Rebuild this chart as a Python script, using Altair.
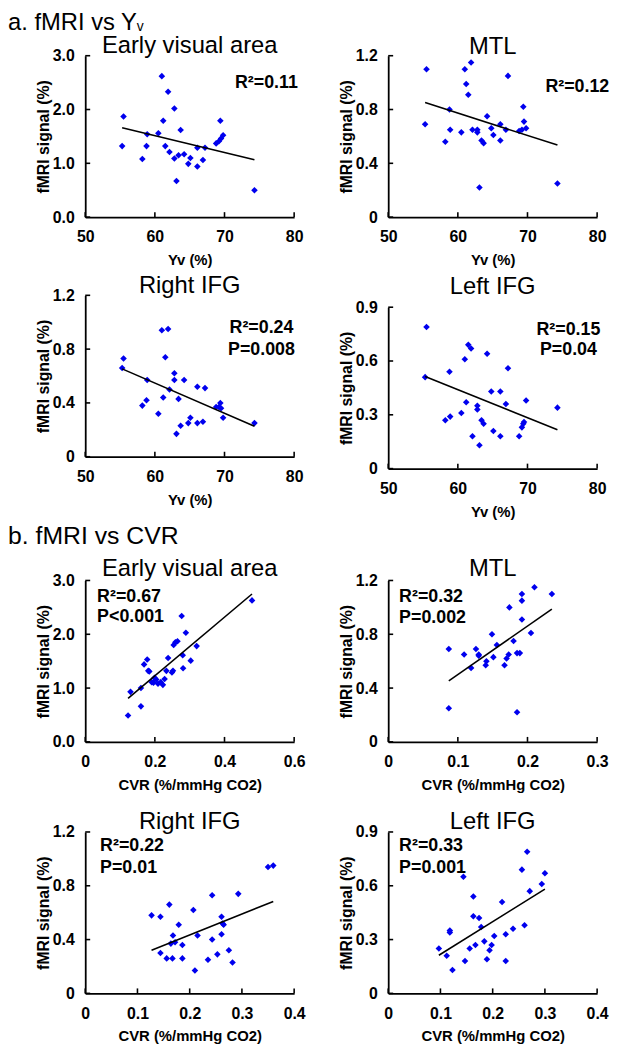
import altair as alt
import pandas as pd

FONT = "Liberation Sans"
BLUE = "#0000ee"

# ---------------- data ----------------
# a. fMRI vs Yv (Yv shared by the four regions)
YV = [55.3, 55.5, 58.2, 58.8, 58.9, 60.5, 61.0, 61.2, 61.5, 61.9, 62.1, 62.8, 62.8, 63.1, 63.4,
      63.7, 64.2, 64.8, 65.1, 66.1, 66.1, 66.9, 67.2, 68.8, 69.2, 69.4, 69.5, 69.8, 74.3]
EV_A = [1.32, 1.87, 1.08, 1.32, 1.54, 1.56, 2.62, 1.79, 1.32, 2.33, 1.21, 2.02, 1.09, 0.67, 1.15,
        1.62, 1.17, 0.99, 1.10, 0.94, 1.29, 1.06, 1.29, 1.37, 1.41, 1.79, 1.46, 1.52, 0.50]
MTL_A = [0.69, 1.10, 0.56, 0.80, 0.65, 0.63, 1.10, 0.99, 0.91, 1.15, 0.65, 0.65, 0.63, 0.22, 0.57,
         0.55, 0.75, 0.66, 0.61, 0.57, 0.69, 0.65, 1.05, 0.64, 0.65, 0.82, 0.71, 0.66, 0.25]
RIFG_A = [0.66, 0.73, 0.38, 0.42, 0.57, 0.32, 0.94, 0.44, 0.74, 0.95, 0.50, 0.62, 0.57, 0.17, 0.43,
          0.23, 0.57, 0.25, 0.29, 0.25, 0.52, 0.26, 0.51, 0.37, 0.37, 0.40, 0.36, 0.29, 0.25]
LIFG_A = [0.51, 0.79, 0.27, 0.54, 0.29, 0.31, 0.61, 0.37, 0.69, 0.67, 0.18, 0.35, 0.33, 0.13, 0.27,
          0.25, 0.64, 0.43, 0.21, 0.18, 0.43, 0.36, 0.56, 0.18, 0.23, 0.25, 0.26, 0.38, 0.34]

# b. fMRI vs CVR (regional CVR)
EV_CVR = [0.123, 0.130, 0.160, 0.160, 0.169, 0.178, 0.181, 0.184, 0.191, 0.196, 0.199, 0.204, 0.209,
          0.217, 0.223, 0.228, 0.233, 0.238, 0.249, 0.252, 0.254, 0.259, 0.265, 0.277, 0.280, 0.281,
          0.289, 0.303, 0.320, 0.479]
EV_B = [0.49, 0.93, 1.00, 0.66, 1.44, 1.53, 1.32, 1.31, 1.11, 1.10, 1.19, 1.16, 1.08, 1.11, 1.06,
        1.17, 1.32, 1.56, 1.29, 1.32, 1.80, 1.85, 1.87, 2.34, 1.61, 1.37, 2.03, 1.51, 1.78, 2.63]
MTL_CVR = [0.087, 0.087, 0.109, 0.119, 0.126, 0.130, 0.130, 0.140, 0.141, 0.149, 0.151, 0.156, 0.167,
           0.170, 0.173, 0.174, 0.180, 0.185, 0.185, 0.189, 0.192, 0.192, 0.192, 0.205, 0.210, 0.235]
MTL_B = [0.69, 0.25, 0.65, 0.55, 0.69, 0.65, 0.64, 0.57, 0.60, 0.80, 0.63, 0.72, 0.57, 0.62, 0.65,
         1.00, 0.75, 0.66, 0.22, 0.66, 0.91, 1.05, 1.10, 0.81, 1.15, 1.10]
RIFG_CVR = [0.127, 0.144, 0.161, 0.144, 0.156, 0.167, 0.168, 0.164, 0.172, 0.179, 0.186, 0.186, 0.207,
            0.210, 0.215, 0.235, 0.243, 0.243, 0.253, 0.261, 0.261, 0.263, 0.265, 0.275, 0.282, 0.293,
            0.350, 0.360]
RIFG_B = [0.58, 0.57, 0.66, 0.30, 0.26, 0.26, 0.43, 0.37, 0.38, 0.51, 0.36, 0.26, 0.62, 0.17, 0.43,
          0.25, 0.73, 0.40, 0.29, 0.57, 0.44, 0.52, 0.51, 0.32, 0.23, 0.74, 0.94, 0.95]
LIFG_CVR = [0.097, 0.112, 0.123, 0.118, 0.118, 0.144, 0.147, 0.156, 0.163, 0.163, 0.167, 0.174, 0.178,
            0.184, 0.189, 0.194, 0.198, 0.203, 0.218, 0.225, 0.225, 0.239, 0.256, 0.261, 0.266, 0.271,
            0.294, 0.300]
LIFG_B = [0.25, 0.21, 0.13, 0.35, 0.34, 0.65, 0.18, 0.25, 0.54, 0.43, 0.27, 0.42, 0.37, 0.29, 0.19,
          0.24, 0.27, 0.32, 0.51, 0.33, 0.18, 0.36, 0.69, 0.38, 0.79, 0.57, 0.61, 0.67]

# tick values
YV_TICKS = [50, 60, 70, 80]
EV_CVR_TICKS = [0, 0.2, 0.4, 0.6]
MTL_CVR_TICKS = [0, 0.1, 0.2, 0.3]
IFG_CVR_TICKS = [0, 0.1, 0.2, 0.3, 0.4]
EV_Y_TICKS = [0, 1, 2, 3]
TICKS_12 = [0, 0.4, 0.8, 1.2]
TICKS_09 = [0, 0.3, 0.6, 0.9]

# texts
SECTION_A = "a. fMRI vs Y"
SECTION_A_SUB = "v"
SECTION_B = "b. fMRI vs CVR"
YTITLE = "fMRI signal (%)"
XTITLE_A = "Yv (%)"
XTITLE_B = "CVR (%/mmHg CO2)"

W, H = 211, 163

ZERO_PLAIN = "datum.value == 0 ? '0' : format(datum.value, '.1f')"
ONE_DEC = "format(datum.value, '.1f')"
INT = "format(datum.value, 'd')"


def txt(s, x, y, size, bold=False, align="left", baseline="middle"):
    return alt.Chart(pd.DataFrame({"t": [s]})).mark_text(
        font=FONT, fontSize=size, fontWeight="bold" if bold else "normal",
        align=align, baseline=baseline, color="black"
    ).encode(text="t:N", x=alt.value(x), y=alt.value(y))


def panel(xv, yv, xdom, xticks, xexpr, ydom, yticks, yexpr, xtitle, title, title_y,
          annots, ann_align, ann_x, ann_ys, top=0, extra=()):
    df = pd.DataFrame({"x": xv, "y": yv})
    xs = alt.Scale(domain=xdom, nice=False, zero=False)
    ys = alt.Scale(domain=ydom, nice=False, zero=False, range=[H + top, top])
    xaxis = alt.Axis(values=xticks, labelExpr=xexpr, title=xtitle, ticks=False,
                     labelPadding=12, labelFlush=False, titleX=W / 2, titleY=43,
                     titleBaseline="middle", titleFontSize=15)
    yaxis = alt.Axis(values=yticks, labelExpr=yexpr, title=YTITLE, ticks=False,
                     labelPadding=11, titleX=-42, titleBaseline="middle",
                     titleAlign="center", titleAngle=270, titleFontSize=16)
    X = alt.X("x:Q", scale=xs, axis=xaxis)
    Y = alt.Y("y:Q", scale=ys, axis=yaxis)
    pts = alt.Chart(df).mark_point(shape="diamond", filled=True, size=44, color=BLUE,
                                   opacity=1).encode(x=X, y=Y)
    fit = alt.Chart(df).transform_regression("x", "y").mark_line(
        color="black", strokeWidth=1.6).encode(x=X, y=Y)
    tx = alt.Chart(pd.DataFrame({"x": xticks})).mark_rule(color="black", strokeWidth=1.6).encode(
        x=X, y=alt.value(H + top), y2=alt.value(H + top - 5))
    ty = alt.Chart(pd.DataFrame({"y": yticks})).mark_rule(color="black", strokeWidth=1.6).encode(
        y=Y, x=alt.value(0), x2=alt.value(5))
    layers = [pts, fit, tx, ty, txt(title, W / 2, top + title_y, 24, align="center",
                                     baseline="alphabetic")]
    for s, yy in zip(annots, ann_ys):
        layers.append(txt(s, ann_x, top + yy, 18, bold=True, align=ann_align))
    for e in extra:
        layers.append(txt(e[0], e[1], top + e[2], e[3], baseline="alphabetic"))
    return alt.layer(*layers).properties(width=W, height=H + top)


hdr_a = [(SECTION_A, -78, -26, 24), (SECTION_A_SUB, 52, -25, 14)]
hdr_b = [(SECTION_B, -78, -37, 25)]

R2, R3, R4 = 12, 34, 12   # extra top offsets of rows 2-4 (Left IFG a sits lower)

ev_a = panel(YV, EV_A, [50, 80], YV_TICKS, INT, [0, 3], EV_Y_TICKS, ONE_DEC, XTITLE_A,
             "Early visual area", -3, ["R²=0.11"], "center", 183, [28], extra=hdr_a)
mtl_a = panel(YV, MTL_A, [50, 80], YV_TICKS, INT, [0, 1.2], TICKS_12, ZERO_PLAIN, XTITLE_A,
              "MTL", -2, ["R²=0.12"], "center", 191, [32])
rifg_a = panel(YV, RIFG_A, [50, 80], YV_TICKS, INT, [0, 1.2], TICKS_12, ZERO_PLAIN, XTITLE_A,
               "Right IFG", -2, ["R²=0.24", "P=0.008"], "center", 178, [33, 55])
lifg_a = panel(YV, LIFG_A, [50, 80], YV_TICKS, INT, [0, 0.9], TICKS_09, ZERO_PLAIN, XTITLE_A,
               "Left IFG", -13, ["R²=0.15", "P=0.04"], "center", 182, [23, 43], top=R2)

ev_b = panel(EV_CVR, EV_B, [0, 0.6], EV_CVR_TICKS, ZERO_PLAIN, [0, 3], EV_Y_TICKS, ONE_DEC,
             XTITLE_B, "Early visual area", -5, ["R²=0.67", "P<0.001"], "left", 12, [17, 37],
             top=R3, extra=hdr_b)
mtl_b = panel(MTL_CVR, MTL_B, [0, 0.3], MTL_CVR_TICKS, ZERO_PLAIN, [0, 1.2], TICKS_12, ZERO_PLAIN,
              XTITLE_B, "MTL", -5, ["R²=0.32", "P=0.002"], "left", 11, [17, 38], top=R3)
rifg_b = panel(RIFG_CVR, RIFG_B, [0, 0.4], IFG_CVR_TICKS, ZERO_PLAIN, [0, 1.2], TICKS_12,
               ZERO_PLAIN, XTITLE_B, "Right IFG", -3, ["R²=0.22", "P=0.01"], "left", 15,
               [14, 36], top=R4)
lifg_b = panel(LIFG_CVR, LIFG_B, [0, 0.4], IFG_CVR_TICKS, ZERO_PLAIN, [0, 0.9], TICKS_09,
               ZERO_PLAIN, XTITLE_B, "Left IFG", -3, ["R²=0.33", "P=0.001"], "left", 11,
               [14, 36], top=R4)

chart = alt.concat(
    ev_a, mtl_a, rifg_a, lifg_a, ev_b, mtl_b, rifg_b, lifg_b,
    columns=2, spacing={"row": 79, "column": 95}, bounds="flush"
).properties(
    padding={"left": 0, "top": -2, "right": 0, "bottom": 0}
).configure_view(strokeWidth=0).configure_axis(
    grid=False, domainColor="black", domainWidth=1.8, labelFont=FONT, labelFontSize=16,
    labelFontWeight="bold", labelColor="black", titleFont=FONT,
    titleFontWeight="bold", titleColor="black", labelOverlap=False
)

chart.save("out.html", embed_options={"renderer": "svg", "actions": False})
